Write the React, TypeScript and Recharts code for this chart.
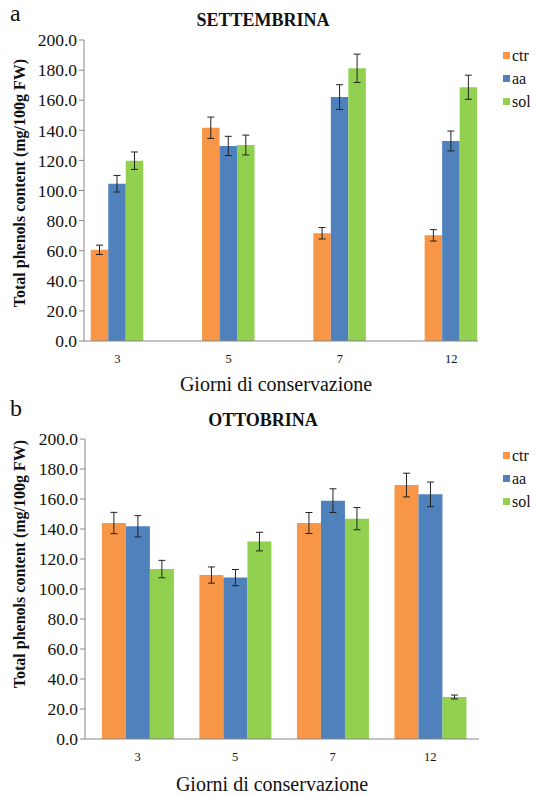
import { Bar, BarChart, ErrorBar, XAxis, YAxis } from 'recharts';

const giorni = ['3', '5', '7', '12'];
const serie = ['ctr', 'aa', 'sol'];
const colori = ['#F79646', '#4F81BD', '#92D050'];
const yTicks = [0, 20, 40, 60, 80, 100, 120, 140, 160, 180, 200];

// SETTEMBRINA
const settCtr = [60.6, 141.7, 71.6, 70.2];
const settCtrErr = [3.1, 7.1, 3.8, 3.8];
const settAa = [104.5, 129.6, 162.1, 132.9];
const settAaErr = [5.5, 6.4, 8.2, 6.6];
const settSol = [119.8, 130.2, 181.2, 168.6];
const settSolErr = [5.8, 6.6, 9.4, 8.0];

// OTTOBRINA
const ottCtr = [144.0, 109.3, 144.0, 169.3];
const ottCtrErr = [7.1, 5.4, 7.0, 7.9];
const ottAa = [141.8, 107.6, 158.9, 163.1];
const ottAaErr = [7.1, 5.4, 7.9, 8.2];
const ottSol = [113.3, 131.6, 146.9, 28.0];
const ottSolErr = [5.8, 6.2, 7.4, 1.3];

const FONT = "'Liberation Serif', 'Times New Roman', serif";
const AXIS = '#878787';

function buildRows(
  ctr: number[], ctrErr: number[],
  aa: number[], aaErr: number[],
  sol: number[], solErr: number[],
) {
  return giorni.map((g, i) => ({
    pos: i,
    giorno: g,
    ctr: ctr[i],
    ctrErr: ctrErr[i],
    aa: aa[i],
    aaErr: aaErr[i],
    sol: sol[i],
    solErr: solErr[i],
  }));
}

interface PanelProps {
  top: number;
  height: number;
  letter: string;
  letterTop: number;
  title: string;
  rows: ReturnType<typeof buildRows>;
  domain: [number, number];
  barSize: number;
  margin: { top: number; right: number; bottom: number; left: number };
  yWidth: number;
  yLabelY: number;
  legendTop: number;
  xLabelY: number;
  xLabelX: number;
}

function Panel(p: PanelProps) {
  return (
    <div style={{ position: 'absolute', left: 0, top: p.top, width: 537, height: p.height }}>
      <div
        style={{
          position: 'absolute',
          left: 10,
          top: p.letterTop,
          fontSize: 24,
          lineHeight: '24px',
          fontFamily: FONT,
          color: '#111',
        }}
      >
        {p.letter}
      </div>
      <div
        style={{
          position: 'absolute',
          left: 263,
          top: 20,
          transform: 'translate(-50%, -50%)',
          fontSize: 18,
          fontWeight: 'bold',
          fontFamily: FONT,
          color: '#111',
          whiteSpace: 'nowrap',
        }}
      >
        {p.title}
      </div>
      <BarChart width={537} height={p.height} data={p.rows} margin={p.margin} barGap={0}>
        <XAxis
          type="number"
          dataKey="pos"
          scale="linear"
          domain={p.domain}
          ticks={[0, 1, 2, 3]}
          tickFormatter={(v: number) => giorni[v] ?? ''}
          tickLine={false}
          tickSize={6}
          tickMargin={7}
          height={30}
          axisLine={{ stroke: AXIS }}
          tick={{ fontSize: 12.5, fill: '#111', fontFamily: FONT }}
        />
        <YAxis
          domain={[0, 200]}
          ticks={yTicks}
          width={p.yWidth}
          tickSize={5}
          tickMargin={2}
          tickFormatter={(v: number) => v.toFixed(1)}
          axisLine={{ stroke: AXIS }}
          tickLine={{ stroke: AXIS }}
          tick={{ fontSize: 17.5, fill: '#111', fontFamily: FONT }}
        />
        {serie.map((s, i) => (
          <Bar key={s} dataKey={s} fill={colori[i]} barSize={p.barSize} isAnimationActive={false}>
            <ErrorBar dataKey={`${s}Err`} width={3.5} stroke="#222" strokeWidth={1} direction="y" />
          </Bar>
        ))}
      </BarChart>
      <div
        style={{
          position: 'absolute',
          left: 20,
          top: p.yLabelY,
          transform: 'translate(-50%, -50%) rotate(-90deg)',
          fontSize: 16,
          fontWeight: 'bold',
          fontFamily: FONT,
          color: '#111',
          whiteSpace: 'nowrap',
        }}
      >
        Total phenols content (mg/100g FW)
      </div>
      <div
        style={{
          position: 'absolute',
          left: p.xLabelX,
          top: p.xLabelY,
          transform: 'translate(-50%, -50%)',
          fontSize: 20,
          fontFamily: FONT,
          color: '#111',
          whiteSpace: 'nowrap',
        }}
      >
        Giorni di conservazione
      </div>
      <div style={{ position: 'absolute', left: 503, top: p.legendTop, fontFamily: FONT, fontSize: 16, color: '#111' }}>
        {serie.map((s, i) => (
          <div key={s} style={{ display: 'flex', alignItems: 'center', height: 23 }}>
            <span style={{ display: 'inline-block', width: 7, height: 7, background: colori[i], marginRight: 2 }} />
            <span>{s}</span>
          </div>
        ))}
      </div>
    </div>
  );
}

export default function App() {
  const settRows = buildRows(settCtr, settCtrErr, settAa, settAaErr, settSol, settSolErr);
  const ottRows = buildRows(ottCtr, ottCtrErr, ottAa, ottAaErr, ottSol, ottSolErr);

  return (
    <div style={{ position: 'absolute', left: 0, top: 0, width: 537, height: 796, background: '#fff' }}>
      <Panel
        top={0}
        height={398}
        letter="a"
        letterTop={1}
        title="SETTEMBRINA"
        rows={settRows}
        domain={[-0.3, 3.24]}
        barSize={17.5}
        margin={{ top: 40, right: 59, bottom: 27, left: 0 }}
        yWidth={84}
        yLabelY={183}
        legendTop={44}
        xLabelY={384}
        xLabelX={276}
      />
      <Panel
        top={400}
        height={396}
        letter="b"
        letterTop={-4}
        title="OTTOBRINA"
        rows={ottRows}
        domain={[-0.54, 3.5]}
        barSize={24}
        margin={{ top: 39, right: 58, bottom: 27, left: 0 }}
        yWidth={85}
        yLabelY={164}
        legendTop={44}
        xLabelY={384}
        xLabelX={272}
      />
    </div>
  );
}
